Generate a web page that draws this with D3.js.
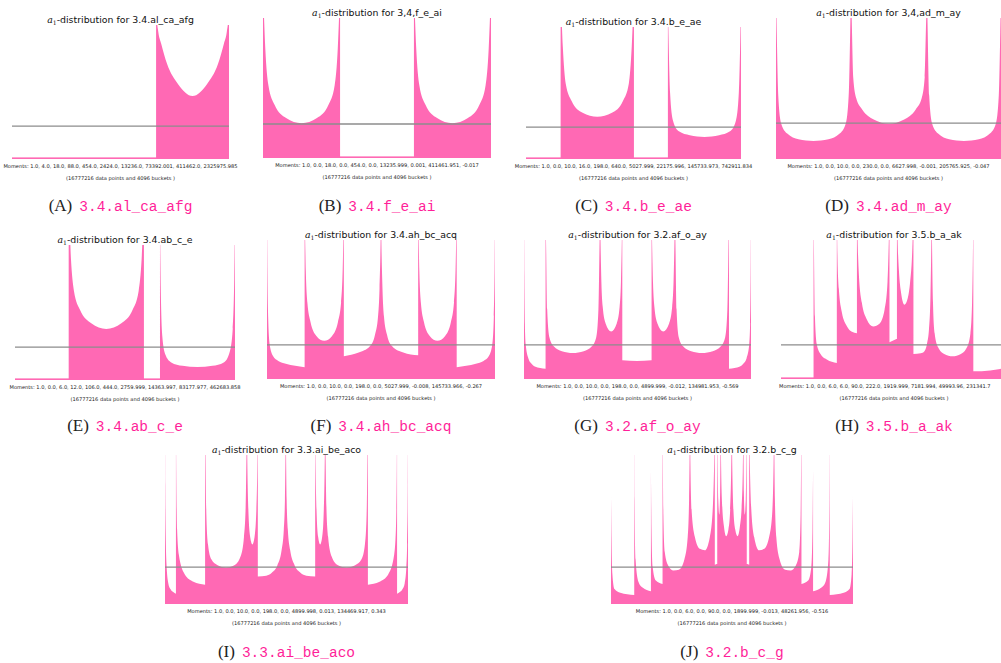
<!DOCTYPE html>
<html>
<head>
<meta charset="utf-8">
<script src="https://cdn.jsdelivr.net/npm/d3@7"></script>
<style>
  body { margin: 0; background: #fff; }
  svg { display: block; }
</style>
</head>
<body>
<svg id="fig" width="1001" height="663"></svg>
<script>
// ---- data -------------------------------------------------------------
const letters = ["A", "B", "C", "D", "E", "F", "G", "H", "I", "J"];
const panelNames = ["3.4.al_ca_afg", "3.4.f_e_ai", "3.4.b_e_ae", "3.4.ad_m_ay", "3.4.ab_c_e",
                    "3.4.ah_bc_acq", "3.2.af_o_ay", "3.5.b_a_ak", "3.3.ai_be_aco", "3.2.b_c_g"];
const titleNames = ["3.4.al_ca_afg", "3,4,f_e_ai", "3.4.b_e_ae", "3,4,ad_m_ay", "3.4.ab_c_e",
                    "3.4.ah_bc_acq", "3.2.af_o_ay", "3.5.b_a_ak", "3.3.ai_be_aco", "3.2.b_c_g"];
const moments = [
  "1.0, 4.0, 18.0, 88.0, 454.0, 2424.0, 13236.0, 73392.001, 411462.0, 2325975.985",
  "1.0, 0.0, 18.0, 0.0, 454.0, 0.0, 13235.999, 0.001, 411461.951, -0.017",
  "1.0, 0.0, 10.0, 16.0, 198.0, 640.0, 5027.999, 22175.996, 145733.973, 742911.834",
  "1.0, 0.0, 10.0, 0.0, 230.0, 0.0, 6627.998, -0.001, 205765.925, -0.047",
  "1.0, 0.0, 6.0, 12.0, 106.0, 444.0, 2759.999, 14363.997, 83177.977, 462683.858",
  "1.0, 0.0, 10.0, 0.0, 198.0, 0.0, 5027.999, -0.008, 145733.966, -0.267",
  "1.0, 0.0, 10.0, 0.0, 198.0, 0.0, 4899.999, -0.012, 134981.953, -0.569",
  "1.0, 0.0, 6.0, 6.0, 90.0, 222.0, 1919.999, 7181.994, 49993.96, 231341.7",
  "1.0, 0.0, 10.0, 0.0, 198.0, 0.0, 4899.998, 0.013, 134469.917, 0.343",
  "1.0, 0.0, 6.0, 0.0, 90.0, 0.0, 1899.999, -0.013, 48261.956, -0.516"
];
const dataPoints = 16777216;
const bucketCount = 4096;

// uniform (mean) density level, as a fraction of the clipped y-range
const meanLevel = [0.246, 0.243, 0.242, 0.255, 0.244, 0.245, 0.245, 0.245, 0.248, 0.248];

// histogram outlines: each piece is [from, to, [[t, density], ...]],
// t running 0..1 across the piece, density as fraction of the y-range
const shapeA = [
  [0.664, 1.0, [[0,1.2],[.01,1.05],[.03,.95],[.07,.86],[.15,.71],[.3,.56],[.5,.47],[.7,.56],[.85,.71],[.93,.86],[.97,.95],[.99,1.05],[1,1.2]]]
];
const shapeB = [
  [0, 0.338, [[0,1.2],[.01,1.05],[.03,.78],[.07,.52],[.15,.38],[.3,.285],[.5,.248],[.7,.285],[.85,.38],[.93,.52],[.97,.78],[.99,1.05],[1,1.2]]],
  [0.662, 1.0, [[0,1.2],[.01,1.05],[.03,.78],[.07,.52],[.15,.38],[.3,.285],[.5,.248],[.7,.285],[.85,.38],[.93,.52],[.97,.78],[.99,1.05],[1,1.2]]]
];
const shapeC = [
  [0.161, 0.502, [[0,1.2],[.01,1.1],[.03,.85],[.07,.57],[.15,.44],[.3,.35],[.5,.32],[.7,.35],[.85,.44],[.93,.57],[.97,.85],[.99,1.1],[1,1.2]]],
  [0.660, 1.0, [[0,1.2],[.01,.9],[.03,.5],[.07,.29],[.15,.21],[.3,.18],[.5,.167],[.7,.18],[.85,.21],[.93,.29],[.97,.5],[.99,.9],[1,1.2]]]
];
const shapeD = [
  [0, 0.333, [[0,1.2],[.01,.9],[.03,.45],[.07,.25],[.15,.18],[.3,.14],[.5,.128],[.7,.14],[.85,.18],[.93,.25],[.97,.45],[.99,.9],[1,1.2]]],
  [0.333, 0.671, [[0,1.2],[.01,1.0],[.03,.58],[.07,.43],[.15,.35],[.3,.28],[.5,.25],[.7,.28],[.85,.35],[.93,.43],[.97,.58],[.99,1.0],[1,1.2]]],
  [0.671, 1.0, [[0,1.2],[.01,.9],[.03,.45],[.07,.25],[.15,.18],[.3,.14],[.5,.128],[.7,.14],[.85,.18],[.93,.25],[.97,.45],[.99,.9],[1,1.2]]]
];
const shapeE = [
  [0.244, 0.586, [[0,1.2],[.01,1.15],[.03,.9],[.07,.66],[.15,.52],[.3,.42],[.5,.378],[.7,.42],[.85,.52],[.93,.66],[.97,.9],[.99,1.15],[1,1.2]]],
  [0.659, 1.0, [[0,1.2],[.01,.7],[.03,.33],[.07,.19],[.15,.13],[.3,.105],[.5,.096],[.7,.105],[.85,.13],[.93,.21],[.97,.38],[.99,.75],[1,1.2]]]
];
const shapeF = [
  [0, 0.165, [[0,1.2],[.01,.8],[.03,.45],[.07,.25],[.16,.165],[.3,.13],[.5,.11],[.75,.095],[1,.084]]],
  [0.165, 0.337, [[0,1.2],[.01,1.05],[.03,.78],[.07,.55],[.15,.41],[.3,.31],[.5,.275],[.7,.31],[.85,.41],[.93,.55],[.97,.78],[.99,1.05],[1,1.2]]],
  [0.337, 0.663, [[0,.163],[.2,.19],[.35,.235],[.42,.32],[.46,.45],[.48,.65],[.495,1.0],[.5,1.2],[.505,1.0],[.52,.65],[.54,.45],[.58,.32],[.65,.235],[.8,.19],[1,.17]]],
  [0.663, 0.832, [[0,1.2],[.01,1.05],[.03,.78],[.07,.55],[.15,.41],[.3,.31],[.5,.275],[.7,.31],[.85,.41],[.93,.55],[.97,.78],[.99,1.05],[1,1.2]]],
  [0.832, 1.0, [[0,.084],[.25,.095],[.5,.11],[.7,.13],[.84,.165],[.93,.25],[.97,.45],[.99,.8],[1,1.2]]]
];
const shapeG = [
  [0, 0.095, [[0,1.2],[.015,.75],[.04,.4],[.08,.25],[.2,.15],[.35,.11],[.5,.09],[.75,.08],[1,.074]]],
  [0.095, 0.335, [[0,1.2],[.01,.95],[.03,.5],[.07,.3],[.15,.235],[.3,.2],[.5,.187],[.7,.2],[.85,.235],[.93,.3],[.97,.5],[.99,.95],[1,1.2]]],
  [0.335, 0.433, [[0,1.2],[.02,1.0],[.06,.7],[.12,.52],[.25,.4],[.5,.342],[.75,.4],[.88,.52],[.94,.7],[.98,1.0],[1,1.2]]],
  [0.433, 0.562, [[0,.135],[.5,.13],[1,.135]]],
  [0.562, 0.665, [[0,1.2],[.02,1.0],[.06,.7],[.12,.52],[.25,.4],[.5,.342],[.75,.4],[.88,.52],[.94,.7],[.98,1.0],[1,1.2]]],
  [0.665, 0.903, [[0,1.2],[.01,.95],[.03,.5],[.07,.3],[.15,.235],[.3,.2],[.5,.187],[.7,.2],[.85,.235],[.93,.3],[.97,.5],[.99,.95],[1,1.2]]],
  [0.903, 1.0, [[0,.074],[.25,.08],[.5,.09],[.65,.11],[.8,.15],[.92,.25],[.96,.4],[.985,.75],[1,1.2]]]
];
const shapeH = [
  [0.144, 0.247, [[0,1.2],[.02,.9],[.06,.45],[.14,.25],[.3,.18],[.57,.14],[1,.115]]],
  [0.247, 0.336, [[0,1.2],[.03,.9],[.1,.65],[.25,.48],[.5,.38],[.75,.34],[1,.33]]],
  [0.336, 0.480, [[0,1.2],[.02,1.0],[.06,.75],[.15,.55],[.3,.43],[.5,.378],[.7,.4],[.85,.5],[.94,.7],[.98,1.0],[1,1.2]]],
  [0.480, 0.513, [[0,.265],[1,.29]]],
  [0.513, 0.586, [[0,1.2],[.04,1.0],[.12,.78],[.25,.62],[.45,.535],[.65,.58],[.8,.7],[.92,.9],[1,1.2]]],
  [0.586, 0.667, [[0,.18],[.4,.185],[.6,.2],[.75,.26],[.85,.36],[.93,.6],[.98,1.0],[1,1.2]]],
  [0.667, 0.851, [[0,1.2],[.01,.9],[.03,.55],[.07,.33],[.15,.23],[.3,.18],[.5,.163],[.7,.18],[.85,.23],[.93,.33],[.97,.55],[.99,.9],[1,1.2]]],
  [0.851, 1.0, [[0,.055],[.5,.062],[.8,.072],[1,.085]]]
];
const shapeI = [
  [0, 0.045, [[0,1.2],[.02,.8],[.08,.4],[.15,.25],[.3,.14],[.5,.1],[.75,.08],[1,.069]]],
  [0.045, 0.165, [[0,1.2],[.01,.9],[.04,.5],[.1,.33],[.3,.2],[.6,.15],[1,.13]]],
  [0.165, 0.337, [[0,1.2],[.01,1.0],[.03,.6],[.07,.4],[.15,.3],[.3,.26],[.5,.245],[.7,.26],[.85,.32],[.93,.45],[.97,.65],[.99,1.0],[1,1.2]]],
  [0.337, 0.382, [[0,1.2],[.05,.9],[.15,.6],[.3,.45],[.5,.4],[.7,.45],[.85,.6],[.95,.9],[1,1.2]]],
  [0.382, 0.497, [[0,.185],[.3,.19],[.5,.21],[.7,.26],[.85,.36],[.93,.5],[.97,.7],[.99,1.0],[1,1.2]]],
  [0.497, 0.618, [[0,1.2],[.01,1.0],[.03,.7],[.07,.5],[.15,.36],[.3,.26],[.5,.21],[.7,.19],[1,.185]]],
  [0.618, 0.659, [[0,1.2],[.05,.9],[.15,.6],[.3,.45],[.5,.4],[.7,.45],[.85,.6],[.95,.9],[1,1.2]]],
  [0.659, 0.835, [[0,1.2],[.01,1.0],[.03,.65],[.07,.45],[.15,.32],[.3,.26],[.5,.245],[.7,.26],[.85,.3],[.93,.4],[.97,.6],[.99,1.0],[1,1.2]]],
  [0.835, 0.955, [[0,.13],[.4,.15],[.7,.2],[.9,.33],[.96,.5],[.99,.9],[1,1.2]]],
  [0.955, 1.0, [[0,.069],[.25,.08],[.5,.1],[.7,.14],[.85,.25],[.92,.4],[.98,.8],[1,1.2]]]
];
const shapeJ = [
  [0, 0.096, [[0,.725],[.02,.45],[.06,.2],[.15,.1],[.4,.075],[.7,.065],[1,.06]]],
  [0.096, 0.165, [[0,1.2],[.02,.7],[.08,.3],[.25,.15],[.5,.11],[1,.085]]],
  [0.165, 0.213, [[0,.904],[.05,.5],[.15,.25],[.4,.16],[1,.135]]],
  [0.213, 0.326, [[0,1.2],[.01,1.0],[.03,.6],[.08,.35],[.2,.26],[.4,.225],[.6,.23],[.8,.3],[.92,.45],[.97,.7],[.99,1.0],[1,1.2]]],
  [0.326, 0.429, [[0,1.2],[.02,.95],[.08,.6],[.2,.45],[.4,.37],[.6,.36],[.8,.45],[.92,.65],[.98,1.0],[1,1.2]]],
  [0.429, 0.439, [[0,.263],[1,.27]]],
  [0.439, 0.453, [[0,1.2],[.3,.7],[.6,.6],[.85,.75],[1,1.2]]],
  [0.453, 0.499, [[0,1.2],[.05,.9],[.15,.65],[.3,.52],[.5,.455],[.7,.5],[.85,.62],[.95,.9],[1,1.2]]],
  [0.499, 0.547, [[0,1.2],[.05,.9],[.15,.62],[.3,.5],[.5,.455],[.7,.52],[.85,.65],[.95,.9],[1,1.2]]],
  [0.547, 0.561, [[0,1.2],[.15,.75],[.4,.6],[.7,.7],[1,1.2]]],
  [0.561, 0.571, [[0,.27],[1,.263]]],
  [0.571, 0.674, [[0,1.2],[.02,1.0],[.08,.65],[.2,.45],[.4,.36],[.6,.37],[.8,.45],[.92,.6],[.98,.95],[1,1.2]]],
  [0.674, 0.787, [[0,1.2],[.01,1.0],[.03,.7],[.08,.45],[.2,.3],[.4,.23],[.6,.225],[.8,.26],[.92,.35],[.97,.6],[.99,1.0],[1,1.2]]],
  [0.787, 0.835, [[0,.135],[.6,.16],[.85,.25],[.95,.5],[1,.904]]],
  [0.835, 0.904, [[0,.085],[.5,.11],[.75,.15],[.92,.3],[.98,.7],[1,1.2]]],
  [0.904, 1.0, [[0,.06],[.3,.065],[.6,.075],[.85,.1],[.94,.2],[.98,.45],[1,.725]]]
];
const shapes = [shapeA, shapeB, shapeC, shapeD, shapeE, shapeF, shapeG, shapeH, shapeI, shapeJ];

// ---- layout -----------------------------------------------------------
const boxes = [
  {x: 12,  y: 25,  w: 217, h: 134},
  {x: 263, y: 18,  w: 228, h: 140},
  {x: 526, y: 27,  w: 215, h: 132},
  {x: 776, y: 18,  w: 225, h: 141},
  {x: 15,  y: 245, w: 220, h: 135},
  {x: 267, y: 240, w: 228, h: 139},
  {x: 524, y: 240, w: 227, h: 139},
  {x: 781, y: 240, w: 226, h: 139},
  {x: 165, y: 455, w: 243, h: 149},
  {x: 611, y: 455, w: 242, h: 149}
];
const captionY = [211, 211, 211, 211, 431, 431, 431, 431, 657, 657];
const momentsAnchorStart = {7: 779};   // the H line runs past the page edge

const PINK = "#ff69b4";
const CAPTION_PINK = "#ff1f99";

const svg = d3.select("#fig");
const defs = svg.append("defs");

boxes.forEach((b, i) => {
  const x = d3.scaleLinear().domain([0, 1]).range([b.x, b.x + b.w]);
  const y = d3.scaleLinear().domain([0, 1]).range([b.y + b.h, b.y]);
  const cx = b.x + b.w / 2;

  defs.append("clipPath").attr("id", "plotclip" + i)
    .append("rect").attr("x", b.x).attr("y", b.y).attr("width", b.w).attr("height", b.h);

  const plot = svg.append("g").attr("clip-path", `url(#plotclip${i})`);

  // thin strip along the empty buckets
  plot.append("rect")
    .attr("x", x(0)).attr("y", y(0) - 1.6)
    .attr("width", x(1) - x(0)).attr("height", 1.6)
    .attr("fill", PINK);

  const area = d3.area()
    .curve(d3.curveMonotoneX)
    .x(d => d[0])
    .y0(y(0))
    .y1(d => y(d[1]));

  const pathData = shapes[i].map(([from, to, pts]) => {
    const piece = d3.scaleLinear().domain([0, 1]).range([from, to]);
    return area(pts.map(([t, v]) => [x(piece(t)), v]));
  }).join("");

  plot.append("path").attr("d", pathData).attr("fill", PINK);

  // uniform reference level
  plot.append("line")
    .attr("x1", x(0)).attr("x2", x(1))
    .attr("y1", y(meanLevel[i])).attr("y2", y(meanLevel[i]))
    .attr("stroke", "#8c8c8c").attr("stroke-width", 1.3);

  // title
  const title = svg.append("text")
    .attr("x", cx).attr("y", b.y - 2)
    .attr("text-anchor", "middle")
    .attr("font-family", "DejaVu Sans")
    .attr("font-size", 9.4)
    .attr("fill", "#111");
  title.append("tspan").attr("font-family", "DejaVu Serif").attr("font-style", "italic").text("a");
  title.append("tspan").attr("font-family", "DejaVu Serif").attr("font-size", 6.2).attr("dy", 2).text("1");
  title.append("tspan").attr("dy", -2).text("-distribution for " + titleNames[i]);

  // moments + sample size
  const mText = svg.append("text")
    .attr("y", b.y + b.h + 9)
    .attr("font-family", "DejaVu Sans")
    .attr("font-size", 5.1)
    .attr("fill", "#222")
    .text("Moments: " + moments[i]);
  if (momentsAnchorStart[i] !== undefined) {
    mText.attr("x", momentsAnchorStart[i]).attr("text-anchor", "start");
  } else {
    mText.attr("x", cx).attr("text-anchor", "middle");
  }

  svg.append("text")
    .attr("x", cx).attr("y", b.y + b.h + 20.5)
    .attr("text-anchor", "middle")
    .attr("font-family", "DejaVu Sans")
    .attr("font-size", 5.1)
    .attr("fill", "#222")
    .text(`(${dataPoints} data points and ${bucketCount} buckets )`);

  // sub-figure caption
  const cap = svg.append("text")
    .attr("x", cx).attr("y", captionY[i])
    .attr("text-anchor", "middle");
  cap.append("tspan")
    .attr("font-family", "Liberation Serif")
    .attr("font-size", 17)
    .attr("fill", "#222")
    .text(`(${letters[i]})`);
  cap.append("tspan")
    .attr("dx", 7)
    .attr("font-family", "Liberation Mono")
    .attr("font-size", 14.5)
    .attr("fill", CAPTION_PINK)
    .text(panelNames[i]);
});
</script>
</body>
</html>
